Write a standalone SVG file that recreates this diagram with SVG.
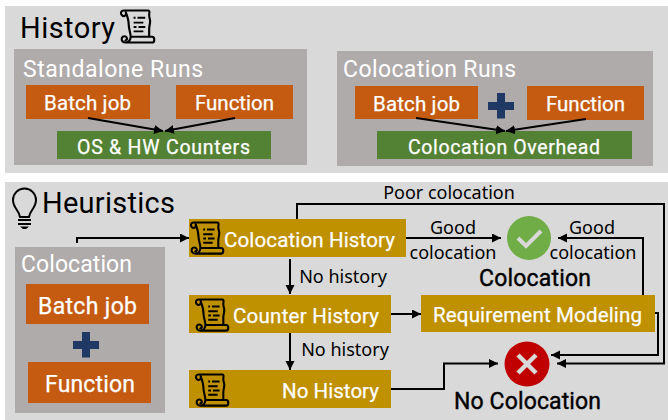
<svg xmlns="http://www.w3.org/2000/svg" xmlns:xlink="http://www.w3.org/1999/xlink" width="668" height="420" viewBox="0 0 668 420">
<style>
text{font-family:"Roboto","Liberation Sans",sans-serif;}
.panel{fill:#d9d9d9}.grey{fill:#afabab}.orange{fill:#c55a11}.green{fill:#548235}.gold{fill:#bf9000}
.w{fill:#fff;font-size:20.500px;stroke:#fff;stroke-width:.25px}
.k{fill:#000;stroke:#000;stroke-width:.4px}
.l{fill:#000;text-anchor:middle;font-size:18px;font-family:"Noto Sans","Liberation Sans",sans-serif}
.c{fill:none;stroke:#000;stroke-width:2}
.s{fill:none;stroke:#000;stroke-width:2.200;stroke-linejoin:round}
.plus{fill:#1f3864}
</style>
<defs>
<marker id="a" markerUnits="userSpaceOnUse" markerWidth="10" markerHeight="10" refX="9" refY="4.500" orient="auto"><path d="M0 0L9 4.500L0 9z"/></marker>
<symbol id="scroll" viewBox="0 0 36 36" overflow="visible">
<path class="s" d="M4 1H29C31 1 30 4 30 6C30 9 31 10 31 12C31 15 30 17 30 20C30 23 30 26 30 28M4 1C1 1 0 4 2 6C4 8 7 6 6 3C8 8 9 12 9 16C9 20 11 24 11 28C11 31 9 34 6 34C3 34 1 32 2 29C3 27 6 27 7 29C8 31 6 32 5 31M6 34H33C36 34 36 28 33 28H11"/>
<path d="M14 7.500h2v2h-2zM18 7.500h8v2h-8zM14 12.500h10v2H14zM14 17h3v2h-3zM19 17h7v2h-7zM14 21.500h10v2H14z"/>
</symbol>
</defs>
<rect width="668" height="420" fill="#fff"/>
<g id="history-panel">
<rect class="panel" x="5" y="6" width="663" height="167"/>
<text x="20" y="38" font-size="29" textLength="95" fill="#000">History</text>
<use xlink:href="#scroll" href="#scroll" x="120" y="9" width="35" height="36"/>
</g>
<g id="standalone-runs">
<rect class="grey" x="14" y="49" width="293" height="116"/>
<text x="23" y="77" font-size="23" textLength="180" fill="#fff">Standalone Runs</text>
</g>
<g id="standalone-batch"><rect class="orange" x="26" y="85" width="124" height="34"/><text class="w" x="44" y="110" textLength="87">Batch job</text></g>
<g id="standalone-function"><rect class="orange" x="176" y="85" width="117" height="34"/><text class="w" x="195" y="110" textLength="79">Function</text></g>
<g id="os-counters"><rect class="green" x="57" y="131" width="214" height="28"/><text class="w" x="77" y="154" textLength="173" style="font-size:19.500px">OS &amp; HW Counters</text></g>
<g id="colocation-runs">
<rect class="grey" x="337" y="51" width="316" height="115"/>
<text x="343" y="77" font-size="23" textLength="173" fill="#fff">Colocation Runs</text>
<path class="plus" d="M497 93h8v9h9v8h-9v8.500h-8V110h-9v-8h9z"/>
</g>
<g id="colocation-batch"><rect class="orange" x="355" y="86" width="123" height="33"/><text class="w" x="373" y="111" textLength="87">Batch job</text></g>
<g id="colocation-function"><rect class="orange" x="527" y="86" width="117" height="34"/><text class="w" x="546" y="111" textLength="79">Function</text></g>
<g id="colocation-overhead"><rect class="green" x="377" y="131" width="255" height="28"/><text class="w" x="408" y="154" textLength="192" style="font-size:19.500px">Colocation Overhead</text></g>
<g id="heuristics-panel">
<rect class="panel" x="5" y="182" width="663" height="238"/>
<path d="M20 217C19 210 13 208 13 200A11.500 11.500 0 1 1 36 200C36 208 30 210 29 217z" fill="none" stroke="#000" stroke-width="2"/>
<path d="M18 219h13v2H18zM18 223h13v2H18zM20 226.500h9l-3 2.500h-3z"/>
<text x="42" y="213" font-size="29" textLength="133" fill="#000">Heuristics</text>
</g>
<g id="colocation-input">
<rect class="grey" x="15" y="247" width="150" height="166"/>
<text x="21" y="272" font-size="23" textLength="111" fill="#fff">Colocation</text>
<rect class="orange" x="26" y="284" width="123" height="40"/><text class="w" x="38" y="314" textLength="99" style="font-size:23px">Batch job</text>
<path class="plus" d="M82 332h8v9h9v8h-9v8.500h-8V349h-9v-8h9z"/>
<rect class="orange" x="28" y="362" width="123" height="41"/><text class="w" x="45" y="392" textLength="90" style="font-size:23px">Function</text>
</g>
<g id="colocation-history"><rect class="gold" x="189" y="219" width="217" height="38"/>
<use xlink:href="#scroll" href="#scroll" x="190" y="221" width="34" height="35"/>
<text class="w" x="224" y="247" textLength="171">Colocation History</text></g>
<g id="counter-history"><rect class="gold" x="189" y="295" width="202" height="38"/>
<use xlink:href="#scroll" href="#scroll" x="195" y="298" width="34" height="35"/>
<text class="w" x="233" y="323" textLength="146">Counter History</text></g>
<g id="no-history"><rect class="gold" x="189" y="370" width="202" height="38"/>
<use xlink:href="#scroll" href="#scroll" x="195" y="373" width="34" height="35"/>
<text class="w" x="282" y="398" textLength="97">No History</text></g>
<g id="requirement-modeling"><rect class="gold" x="421" y="295" width="234" height="37"/><text class="w" x="433" y="322" textLength="209">Requirement Modeling</text></g>
<g id="colocation-result">
<circle cx="529" cy="238" r="22" fill="#70ad47"/>
<path d="M518 238L526 246L541 231" fill="none" stroke="#d9d9d9" stroke-width="4"/>
<text class="k" x="479" y="286" font-size="23" textLength="112">Colocation</text>
</g>
<g id="no-colocation-result">
<circle cx="527" cy="364" r="22.500" fill="#c00000"/>
<path d="M518 355L536 373M536 355L518 373" fill="none" stroke="#d9d9d9" stroke-width="4.500"/>
<text class="k" x="454" y="409" font-size="23" textLength="147">No Colocation</text>
</g>
<g id="connectors">
<path class="c" marker-end="url(#a)" d="M88 118L163 131"/>
<path class="c" marker-end="url(#a)" d="M235 118L165 131"/>
<path class="c" marker-end="url(#a)" d="M416 118L505 131"/>
<path class="c" marker-end="url(#a)" d="M586 119L506 131"/>
<path class="c" marker-end="url(#a)" d="M77 243V238H189"/>
<path class="c" marker-end="url(#a)" d="M406 238H501"/>
<path class="c" marker-end="url(#a)" d="M297 219V204H664V363.500H557"/>
<path class="c" marker-end="url(#a)" d="M643 295V238H558"/>
<path class="c" marker-end="url(#a)" d="M290 259V294"/>
<path class="c" marker-end="url(#a)" d="M290 333V370"/>
<path class="c" marker-end="url(#a)" d="M391 314H421"/>
<path class="c" marker-end="url(#a)" d="M655 313H658V355H551"/>
<path class="c" marker-end="url(#a)" d="M391 389H444V363.500H498"/>
</g>
<g id="labels">
<text class="l" x="449" y="199">Poor colocation</text>
<text class="l" x="453" y="234">Good</text>
<text class="l" x="453" y="259">colocation</text>
<text class="l" x="592" y="234">Good</text>
<text class="l" x="593" y="259">colocation</text>
<text class="l" x="343" y="283">No history</text>
<text class="l" x="345" y="356">No history</text>
</g>
</svg>
